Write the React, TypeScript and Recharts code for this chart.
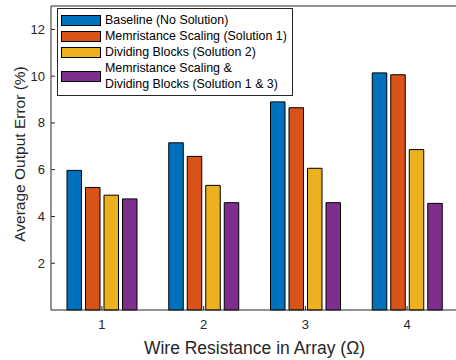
import React from 'react';
import { BarChart, Bar, XAxis, YAxis, Legend } from 'recharts';

// Average output error (%) per wire resistance, one list per mitigation scheme
const RESISTANCES = ['1', '2', '3', '4'];
const BASELINE = [5.97, 7.15, 8.9, 10.14];
const MEM_SCALING = [5.24, 6.57, 8.65, 10.06];
const DIVIDING = [4.91, 5.33, 6.06, 6.86];
const COMBINED = [4.75, 4.59, 4.59, 4.56];
const Y_TICKS = [2, 4, 6, 8, 10, 12];

const SERIES = [
  { key: 'baseline', color: '#0072BD', label: ['Baseline (No Solution)'] },
  { key: 'memScaling', color: '#D95319', label: ['Memristance Scaling (Solution 1)'] },
  { key: 'dividing', color: '#EDB120', label: ['Dividing Blocks (Solution 2)'] },
  { key: 'combined', color: '#7E2F8E', label: ['Memristance Scaling &', 'Dividing Blocks (Solution 1 & 3)'] },
];

const data = RESISTANCES.map((r, i) => ({
  r,
  baseline: BASELINE[i],
  memScaling: MEM_SCALING[i],
  dividing: DIVIDING[i],
  combined: COMBINED[i],
}));

const FONT = '"Liberation Sans", Arial, Helvetica, sans-serif';
const AXIS = '#262626';
const TICK_LEN = 4;
const X_TICK_MARGIN = 10;
const Y_TICK_MARGIN = 6;

// bottom tick: label below the axis, tick mark pointing into the plot
const XTick = ({ x, y, payload }: any) => {
  const axisY = y - X_TICK_MARGIN;
  return (
    <g>
      <line x1={x} x2={x} y1={axisY} y2={axisY - TICK_LEN} stroke={AXIS} />
      <text x={x} y={y} dy={9} textAnchor="middle" fontSize={13} fontFamily={FONT} fill={AXIS}>
        {payload.value}
      </text>
    </g>
  );
};

const YTick = ({ x, y, payload }: any) => {
  const axisX = x + Y_TICK_MARGIN;
  return (
    <g>
      <line x1={axisX} x2={axisX + TICK_LEN} y1={y} y2={y} stroke={AXIS} />
      <text x={x} y={y} dy={4.5} textAnchor="end" fontSize={13} fontFamily={FONT} fill={AXIS}>
        {payload.value}
      </text>
    </g>
  );
};

const YTitle = ({ viewBox }: any) => {
  const cx = viewBox.x + 19;
  const cy = viewBox.y + viewBox.height / 2 - 4;
  return (
    <text
      x={cx}
      y={cy}
      transform={`rotate(-90, ${cx}, ${cy})`}
      textAnchor="middle"
      dominantBaseline="central"
      fontSize={15.5}
      fontFamily={FONT}
      fill={AXIS}
    >
      Average Output Error (%)
    </text>
  );
};

const XTitle = ({ viewBox }: any) => (
  <text
    x={viewBox.x + viewBox.width / 2}
    y={348}
    textAnchor="middle"
    dominantBaseline="central"
    fontSize={17.5}
    fontFamily={FONT}
    fill={AXIS}
  >
    Wire Resistance in Array (Ω)
  </text>
);

const LegendBox = () => (
  <div
    style={{
      border: `1px solid ${AXIS}`,
      background: '#fff',
      padding: '3px 5px 3px 3px',
      fontFamily: FONT,
      fontSize: 12.4,
      lineHeight: '16px',
      color: '#000',
      whiteSpace: 'nowrap',
    }}
  >
    {SERIES.map((s) => (
      <div key={s.key} style={{ display: 'flex', alignItems: 'center' }}>
        <div
          style={{
            width: 40,
            height: 11,
            background: s.color,
            border: '1px solid #000',
            boxSizing: 'border-box',
            marginRight: 4,
            flexShrink: 0,
          }}
        />
        <div>
          {s.label.map((line) => (
            <div key={line}>{line}</div>
          ))}
        </div>
      </div>
    ))}
  </div>
);

export default function App() {
  return (
    <div style={{ position: 'absolute', left: 0, top: 0, width: 456, height: 360, overflow: 'hidden', background: '#fff' }}>
      <BarChart
        width={458}
        height={360}
        data={data}
        margin={{ top: 6, right: 0, bottom: 0, left: 0 }}
        barSize={14.5}
        barGap={4}
      >
        <XAxis
          dataKey="r"
          height={50}
          tickSize={0}
          tickMargin={X_TICK_MARGIN}
          tickLine={false}
          axisLine={{ stroke: AXIS }}
          tick={<XTick />}
          label={<XTitle />}
        />
        <XAxis
          xAxisId="top"
          dataKey="r"
          orientation="top"
          mirror
          height={10}
          tickSize={TICK_LEN}
          tick={false}
          tickLine={{ stroke: AXIS }}
          axisLine={{ stroke: AXIS }}
        />
        <YAxis
          width={51}
          domain={[0, 13]}
          ticks={Y_TICKS}
          tickSize={0}
          tickMargin={Y_TICK_MARGIN}
          tickLine={false}
          axisLine={{ stroke: AXIS }}
          tick={<YTick />}
          label={<YTitle />}
        />
        <YAxis
          yAxisId="right"
          orientation="right"
          mirror
          width={10}
          domain={[0, 13]}
          ticks={Y_TICKS}
          tickSize={TICK_LEN}
          tick={false}
          tickLine={{ stroke: AXIS }}
          axisLine={{ stroke: AXIS }}
        />
        <Legend
          layout="vertical"
          align="center"
          verticalAlign="middle"
          wrapperStyle={{ left: 57, top: 8, width: 'auto', height: 'auto' }}
          content={<LegendBox />}
        />
        {SERIES.map((s) => (
          <Bar key={s.key} dataKey={s.key} fill={s.color} stroke="#000" strokeWidth={1} isAnimationActive={false} />
        ))}
      </BarChart>
    </div>
  );
}
